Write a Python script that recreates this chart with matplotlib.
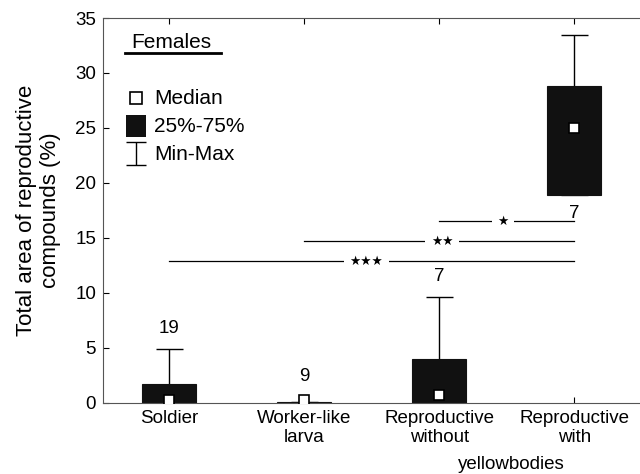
import matplotlib.pyplot as plt
import numpy as np

plt.rcParams['font.family'] = ['Liberation Sans', 'DejaVu Sans']

groups = ['Soldier', 'Worker-like\nlarva', 'Reproductive\nwithout', 'Reproductive\nwith']
medians = [0.3, 0.3, 0.7, 25.0]
q1 = [0.0, 0.0, 0.0, 18.9]
q3 = [1.7, 0.05, 4.0, 28.8]
mins = [0.0, 0.0, 0.0, 18.9]
maxs = [4.9, 0.1, 9.6, 33.5]
n_labels = ['19', '9', '7', '7']
n_y = [6.8, 2.4, 11.5, 17.2]

# significance bars: (from, to, y, label, label x)
sig = [(3, 4, 16.5, '★', 3.47), (2, 4, 14.7, '★★', 3.02), (1, 4, 12.9, '★★★', 2.46)]

x = np.arange(1, len(groups) + 1)

fig = plt.figure(figsize=(6.4, 4.74), dpi=100)
ax = fig.add_axes([0.161, 0.150, 0.842, 0.812])

# whiskers
ax.vlines(x, mins, maxs, color='black', lw=1, zorder=1)
ax.hlines(maxs, x - 0.1, x + 0.1, color='black', lw=1, zorder=1)
ax.hlines(mins, x - 0.1, x + 0.1, color='#555555', lw=1, zorder=1)

# boxes
ax.bar(x, np.array(q3) - np.array(q1), bottom=q1, width=0.4,
       color='#111111', edgecolor='#111111', lw=0.8, zorder=2)

# medians
ax.plot(x, medians, 's', ms=7, mfc='white', mec='black', mew=1.2, zorder=3)

for xi, t, yy in zip(x, n_labels, n_y):
    ax.text(xi, yy, t, ha='center', va='center', fontsize=13.5)

for a, b, yy, lab, lx in sig:
    ax.plot([a, b], [yy, yy], color='black', lw=0.9)
    ax.text(lx, yy, lab, ha='center', va='center', fontsize=9,
            family='DejaVu Sans',
            bbox=dict(facecolor='white', edgecolor='none', pad=4))

ax.set_xlim(0.51, 4.5)
ax.set_ylim(0, 35)
ax.set_yticks(range(0, 36, 5))
ax.set_xticks(x)
ax.set_xticklabels(groups, fontsize=13.5, linespacing=1.2)
ax.tick_params(axis='y', labelsize=13.5, direction='in', length=4, pad=5)
ax.tick_params(axis='x', direction='in', length=4, top=True, pad=5)
ax.text(3.53, -5.6, 'yellowbodies', ha='center', va='center', fontsize=13.5)

ax.spines['right'].set_visible(False)
for s in ['left', 'bottom', 'top']:
    ax.spines[s].set_color('#555555')

ax.set_ylabel('Total area of reproductive\ncompounds (%)', fontsize=16,
              linespacing=1.2, labelpad=10)

# legend-like annotations
ax.text(0.72, 32.8, 'Females', fontsize=15, va='center')
ax.plot([0.674, 1.38], [31.8, 31.8], color='black', lw=2)
ax.plot(0.755, 27.7, 's', ms=9, mfc='white', mec='black', mew=1.2)
ax.bar(0.755, 2.0, bottom=24.2, width=0.15, color='#111111')
ax.vlines(0.755, 21.6, 23.7, color='black', lw=1)
ax.hlines([21.6, 23.7], 0.68, 0.83, color='black', lw=1)
ax.text(0.89, 27.7, 'Median', fontsize=15, va='center')
ax.text(0.89, 25.1, '25%-75%', fontsize=15, va='center')
ax.text(0.89, 22.6, 'Min-Max', fontsize=15, va='center')

fig.savefig('out.png', dpi=100)
